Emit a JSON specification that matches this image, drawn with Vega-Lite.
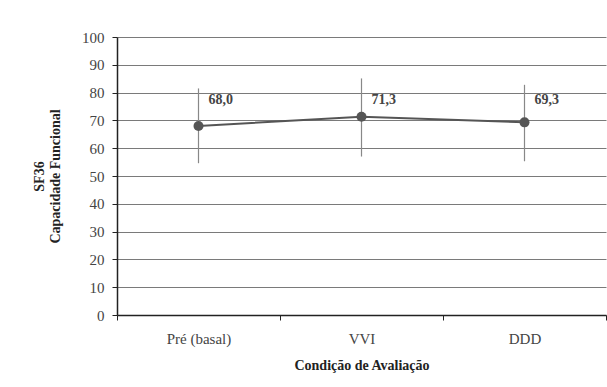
{
  "$schema": "https://vega.github.io/schema/vega-lite/v6.json",
  "width": 489,
  "height": 278,
  "autosize": {"type": "none"},
  "padding": {"left": 117, "top": 37, "right": 1, "bottom": 72},
  "background": "white",
  "config": {
    "font": "Liberation Serif",
    "view": {"stroke": null},
    "axis": {"labelFont": "Liberation Serif", "titleFont": "Liberation Serif", "labelColor": "#444", "titleColor": "#222", "domainColor": "#222", "tickColor": "#222", "labelFontSize": 15, "titleFontSize": 14, "titleFontWeight": "bold"},
    "axisY": {"tickCount": 10, "tickSize": 5, "labelPadding": 8, "titlePadding": 19, "gridColor": "#7a7a7a", "gridWidth": 1.2, "gridOpacity": 1, "domainWidth": 1.5}
  },
  "data": {"values": [
    {"cond": "Pré (basal)", "mean": 68.0, "lo": 54.6, "hi": 81.5, "label": "68,0"},
    {"cond": "VVI", "mean": 71.3, "lo": 57.0, "hi": 85.1, "label": "71,3"},
    {"cond": "DDD", "mean": 69.3, "lo": 55.3, "hi": 82.8, "label": "69,3"}
  ]},
  "encoding": {
    "x": {"field": "cond", "type": "nominal", "sort": null,
      "scale": {"type": "band", "paddingInner": 0, "paddingOuter": 0},
      "axis": {"title": "Condição de Avaliação", "labelAngle": 0, "tickBand": "extent", "tickSize": 5, "labelPadding": 11, "titlePadding": 12, "domainWidth": 1.5, "grid": false}}
  },
  "layer": [
    {
      "mark": {"type": "rule", "color": "#888", "strokeWidth": 1.2},
      "encoding": {
        "y": {"field": "lo", "type": "quantitative", "scale": {"domain": [0, 100]},
          "axis": {"title": ["SF36", "Capacidade Funcional"]}},
        "y2": {"field": "hi"}
      }
    },
    {
      "mark": {"type": "line", "color": "#555", "strokeWidth": 2},
      "encoding": {"y": {"field": "mean", "type": "quantitative"}}
    },
    {
      "mark": {"type": "point", "filled": true, "color": "#555", "size": 100, "opacity": 1},
      "encoding": {"y": {"field": "mean", "type": "quantitative"}}
    },
    {
      "mark": {"type": "text", "align": "left", "baseline": "middle", "dx": 10, "font": "Liberation Serif", "fontSize": 14, "fontWeight": "bold", "color": "#444"},
      "encoding": {"y": {"datum": 77.4, "type": "quantitative"}, "text": {"field": "label"}}
    }
  ]
}
